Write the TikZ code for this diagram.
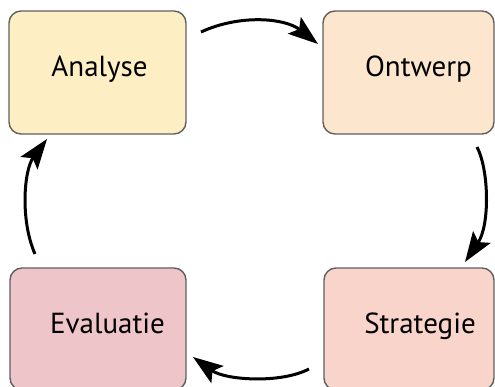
\documentclass[tikz,border=0pt]{standalone}
\usepackage{fontspec}
\setmainfont{PT Sans}
\usetikzlibrary{arrows.meta}
\definecolor{cAna}{HTML}{FDEFC3}
\definecolor{cOnt}{HTML}{FCE6CD}
\definecolor{cEva}{HTML}{EEC5C9}
\definecolor{cStr}{HTML}{F9D4CB}
\definecolor{cBorder}{HTML}{606060}
\begin{document}
\begin{tikzpicture}[x=1pt,y=-1pt,
  phasebox/.style={draw=cBorder,line width=1.4pt,rounded corners=12pt,inner sep=0pt},
  phaselabel/.style={anchor=base,font=\fontsize{29}{32}\selectfont,inner sep=0pt},
  cyclearrow/.style={line width=3pt,-{Stealth[length=30pt,width=21pt,inset=6pt]}}]
\useasboundingbox (0,0) rectangle (495,387);
\node[phasebox,fill=cAna,minimum width=177pt,minimum height=123pt] (A) at (97.5,72.5) {};
\node[phasebox,fill=cOnt,minimum width=171pt,minimum height=123pt] (O) at (408.5,72.5) {};
\node[phasebox,fill=cEva,minimum width=176pt,minimum height=122pt] (E) at (98,329) {};
\node[phasebox,fill=cStr,minimum width=170pt,minimum height=122pt] (S) at (409,329) {};
\node[phaselabel] (tA) at (99.5,77) {Analyse};
\node[phaselabel] (tO) at (418.5,77) {Ontwerp};
\node[phaselabel] (tE) at (107.5,333) {Evaluatie};
\node[phaselabel] (tS) at (420,333) {Strategie};
\coordinate (a1) at (201,32);
\coordinate (a2) at (318,44);
\coordinate (b1) at (477,147);
\coordinate (b2) at (465,262);
\coordinate (c1) at (309,369);
\coordinate (c2) at (193,357);
\coordinate (d1) at (35,254);
\coordinate (d2) at (47,139);
\draw[cyclearrow] (a1) .. controls (240,14) and (285,18) .. (a2);
\draw[cyclearrow] (b1) .. controls (489,170) and (490,225) .. (b2);
\draw[cyclearrow] (c1) .. controls (280,384) and (225,380) .. (c2);
\draw[cyclearrow] (d1) .. controls (20,220) and (24,170) .. (d2);
\end{tikzpicture}
\end{document}
